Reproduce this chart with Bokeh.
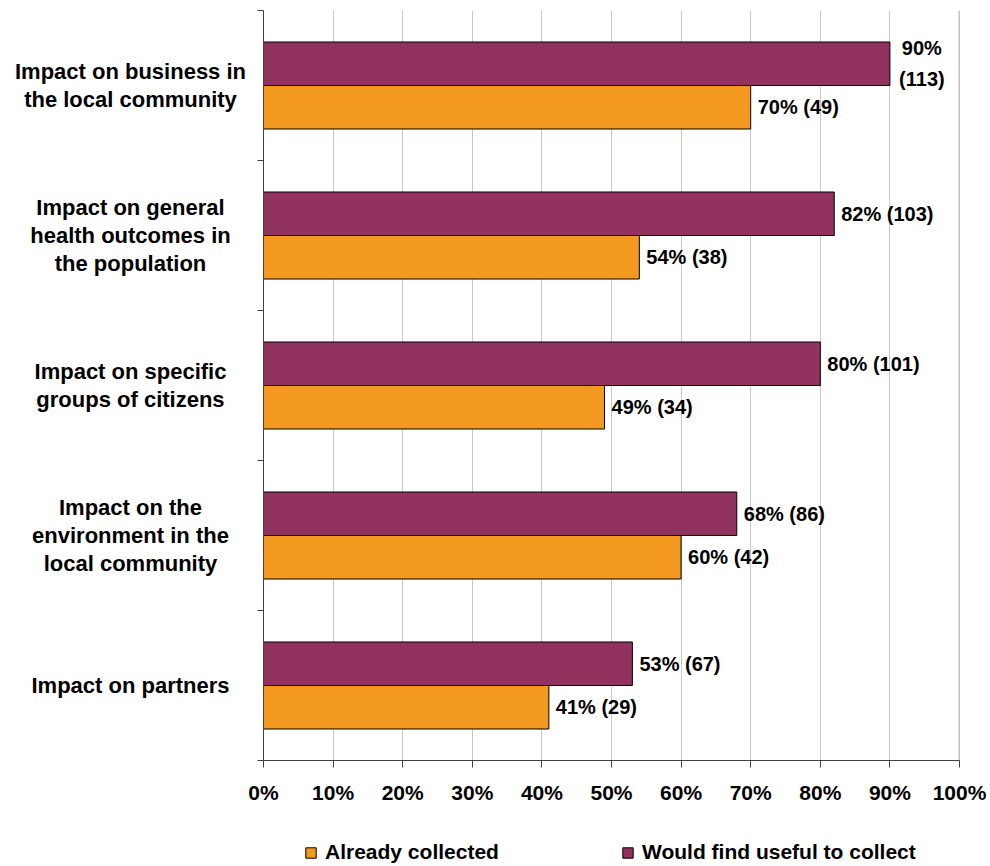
from bokeh.plotting import figure
from bokeh.layouts import column, row
from bokeh.models import (ColumnDataSource, Range1d, FixedTicker, Legend,
                          LegendItem, Span)
from bokeh.embed import file_html
from bokeh.resources import INLINE
from bokeh.core.properties import value

# ---- data (top to bottom) ----
categories = [
    "Impact on business in\nthe local community",
    "Impact on general\nhealth outcomes in\nthe population",
    "Impact on specific\ngroups of citizens",
    "Impact on the\nenvironment in the\nlocal community",
    "Impact on partners",
]
already_pct = [70, 54, 49, 60, 41]
already_n = [49, 38, 34, 42, 29]
useful_pct = [90, 82, 80, 68, 53]
useful_n = [113, 103, 101, 86, 67]
x_ticks = [0, 10, 20, 30, 40, 50, 60, 70, 80, 90, 100]
series_names = ["Already collected", "Would find useful to collect"]

ORANGE = "#F4991F"
PURPLE = "#92325E"
FONT = "Liberation Sans"
FS = "21px"
FS_CAT = "22px"
FS_DATA = "20px"

W, H = 990, 866
LEG_H = 40
LABEL_W = 247
FRAME_LEFT_PAD = 16

n = len(categories)
centers = [n - i - 0.5 for i in range(n)]
bar_h = 0.29
y_range = Range1d(0, n)

# ---------------- main chart ----------------
p = figure(width=W - LABEL_W, height=H - LEG_H, output_backend="svg",
           toolbar_location=None, x_range=Range1d(0, 100), y_range=y_range,
           min_border_left=FRAME_LEFT_PAD, min_border_right=31, min_border_top=10,
           min_border_bottom=66)
p.outline_line_color = None

src_a = ColumnDataSource(dict(y=[c - bar_h / 2 for c in centers], v=already_pct))
src_u = ColumnDataSource(dict(y=[c + bar_h / 2 for c in centers], v=useful_pct))

p.hbar(y="y", right="v", left=0, height=bar_h, source=src_a,
       fill_color=ORANGE, line_color="black", line_width=1)
p.hbar(y="y", right="v", left=0, height=bar_h, source=src_u,
       fill_color=PURPLE, line_color="black", line_width=1)

def add_labels(ys, vals, counts):
    normal = dict(x=[], y=[], t=[])
    wrapped = dict(x=[], y=[], t=[])
    for y, v, c in zip(ys, vals, counts):
        if v > 85:
            wrapped["x"].append(v); wrapped["y"].append(y)
            wrapped["t"].append(f"{v}%\n({c})")
        else:
            normal["x"].append(v); normal["y"].append(y)
            normal["t"].append(f"{v}% ({c})")
    p.text(x="x", y="y", text="t", source=ColumnDataSource(normal),
           x_offset=7, text_align="left", text_baseline="middle",
           text_font=value(FONT), text_font_style="bold", text_font_size=FS_DATA,
           text_color="black")
    if wrapped["x"]:
        p.text(x="x", y="y", text="t", source=ColumnDataSource(wrapped),
               x_offset=32, text_align="center", text_baseline="middle",
               text_font=value(FONT), text_font_style="bold", text_font_size=FS_DATA,
               text_color="black", text_line_height=1.4)

add_labels(src_a.data["y"], already_pct, already_n)
add_labels(src_u.data["y"], useful_pct, useful_n)

p.ygrid.grid_line_color = None
p.xgrid.grid_line_color = "#c8c8c8"
p.xgrid.ticker = FixedTicker(ticks=x_ticks)
p.add_layout(Span(location=100, dimension="height", line_color="#808080", line_width=1.5))

xa = p.xaxis[0]
xa.ticker = FixedTicker(ticks=x_ticks)
xa.major_label_overrides = {t: f"{t}%" for t in x_ticks}
xa.major_label_text_font = FONT
xa.major_label_text_font_style = "bold"
xa.major_label_text_font_size = FS
xa.major_label_text_color = "black"
xa.major_label_standoff = 13
xa.major_tick_out = 7
xa.major_tick_in = 0
xa.minor_tick_line_color = None
xa.axis_line_color = "#404040"
xa.major_tick_line_color = "#404040"

# y axis: only boundary tick marks (as minor ticks), no labels
ya = p.yaxis[0]
ya.ticker = FixedTicker(ticks=[], minor_ticks=list(range(n + 1)))
ya.major_tick_out = 0
ya.major_tick_in = 0
ya.major_label_standoff = 0
ya.minor_tick_out = 6
ya.minor_tick_in = 0
ya.minor_tick_line_color = "#404040"
ya.axis_line_color = "#404040"

# ---------------- category labels (shares the y scale) ----------------
lab = figure(width=LABEL_W, height=H - LEG_H, output_backend="svg",
             toolbar_location=None, x_range=Range1d(0, LABEL_W), y_range=y_range,
             x_axis_location=None, y_axis_location=None,
             min_border_left=0, min_border_right=0, min_border_top=10,
             min_border_bottom=66)
lab.outline_line_color = None
lab.grid.visible = False
lab.text(x=[130] * n, y=centers, text=categories, text_align="center",
         text_baseline="middle", text_font=value(FONT), text_font_style="bold",
         text_font_size=FS_CAT, text_color="black", text_line_height=1.12)

# ---------------- legend strip ----------------
leg = figure(width=W, height=LEG_H, output_backend="svg", toolbar_location=None,
             x_range=Range1d(0, W), y_range=Range1d(0, LEG_H),
             x_axis_location=None, y_axis_location=None,
             min_border_left=0, min_border_right=0, min_border_top=0,
             min_border_bottom=0)
leg.outline_line_color = None
leg.grid.visible = False
# legend proxies (kept outside the visible range of this strip)
ra = leg.hbar(y=[-100], right=[1], left=0, height=1, fill_color=ORANGE, line_color="black")
ru = leg.hbar(y=[-100], right=[1], left=0, height=1, fill_color=PURPLE, line_color="black")

for r, name, lx in [(ra, series_names[0], 304), (ru, series_names[1], 621)]:
    lg = Legend(items=[LegendItem(label=name, renderers=[r])], location=(lx, 2),
                orientation="horizontal", padding=0, margin=0, spacing=0,
                glyph_width=13, glyph_height=13, label_standoff=8,
                label_text_font=FONT, label_text_font_style="bold",
                label_text_font_size=FS, label_text_color="black",
                border_line_color=None, background_fill_alpha=0)
    leg.add_layout(lg, "center")

layout = column(row(lab, p, spacing=0), leg, spacing=0)
open("out.html", "w").write(file_html(layout, INLINE))
